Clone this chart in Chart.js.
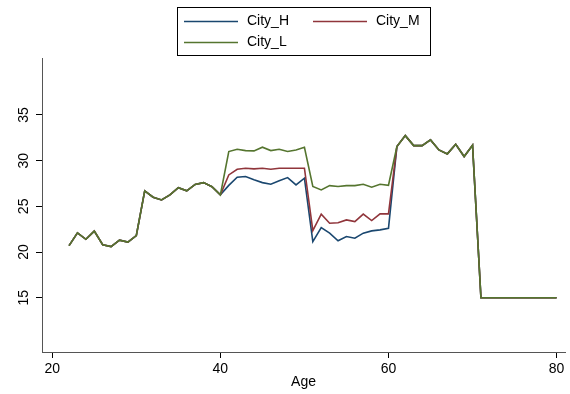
<!DOCTYPE html>
<html><head><meta charset="utf-8">
<script src="https://cdn.jsdelivr.net/npm/chart.js@4"></script>
<style>html,body{margin:0;padding:0;background:#fff}#wrap{width:570px;height:394px;position:relative}</style>
</head><body><div id="wrap"><canvas id="c" width="570" height="394"></canvas></div>
<script>
const ages = [22,23,24,25,26,27,28,29,30,31,32,33,34,35,36,37,38,39,40,
  41,42,43,44,45,46,47,48,49,50,51,52,53,54,55,56,57,58,59,60,
  61,62,63,64,65,66,67,68,69,70,71,72,73,74,75,76,77,78,79,80];
const cityH = [20.7,22.1,21.4,22.3,20.8,20.6,21.3,21.1,21.8,26.7,26.0,25.7,26.25,27.05,26.7,27.4,27.6,27.15,26.26,
  27.3,28.19,28.26,27.9,27.6,27.42,27.8,28.15,27.35,28.08,21.15,22.68,22.07,21.23,21.7,21.52,22.07,22.32,22.43,22.6,
  31.54,32.74,31.65,31.65,32.27,31.17,30.74,31.79,30.45,31.68,15,15,15,15,15,15,15,15,15,15];
const cityM = [20.7,22.1,21.4,22.3,20.8,20.6,21.3,21.1,21.8,26.7,26.0,25.7,26.25,27.05,26.7,27.4,27.6,27.15,26.26,
  28.44,29.06,29.17,29.1,29.17,29.06,29.17,29.17,29.17,29.17,22.36,24.15,23.16,23.2,23.52,23.34,24.15,23.45,24.18,24.18,
  31.54,32.74,31.65,31.65,32.27,31.17,30.74,31.79,30.45,31.68,15,15,15,15,15,15,15,15,15,15];
const cityL = [20.7,22.1,21.4,22.3,20.8,20.6,21.3,21.1,21.8,26.7,26.0,25.7,26.25,27.05,26.7,27.4,27.6,27.15,26.26,
  31.0,31.25,31.1,31.07,31.47,31.1,31.25,31.0,31.17,31.47,27.17,26.8,27.27,27.17,27.27,27.27,27.42,27.09,27.42,27.31,
  31.54,32.74,31.65,31.65,32.27,31.17,30.74,31.79,30.45,31.68,15,15,15,15,15,15,15,15,15,15];
const xTicks = [20,40,60,80];
const yTicks = [15,20,25,30,35];
const seriesNames = ['City_H','City_M','City_L'];
const seriesColors = ['#1a476f','#90353b','#55752f'];
const FONT = '"Liberation Sans", Arial, Helvetica, sans-serif';

const legendPlugin = {
  id: 'stataLegend',
  afterDraw(chart) {
    const ctx = chart.ctx;
    ctx.save();
    ctx.strokeStyle = '#000'; ctx.lineWidth = 1;
    ctx.strokeRect(177.5, 7.5, 253, 48);
    const items = [{x:184,y:21.5},{x:313,y:21.5},{x:184,y:42.5}];
    chart.data.datasets.forEach((ds, i) => {
      const it = items[i];
      ctx.strokeStyle = ds.borderColor; ctx.lineWidth = 1.6;
      ctx.beginPath(); ctx.moveTo(it.x, it.y); ctx.lineTo(it.x + 54, it.y); ctx.stroke();
      ctx.fillStyle = '#000'; ctx.font = '14px ' + FONT;
      ctx.textBaseline = 'middle'; ctx.textAlign = 'left';
      ctx.fillText(ds.label, it.x + 63, it.y);
    });
    ctx.restore();
  }
};

const series = [cityH, cityM, cityL];
const datasets = series.map((vals, i) => ({
  label: seriesNames[i],
  data: ages.map((a, j) => ({x: a, y: vals[j]})),
  borderColor: seriesColors[i],
  backgroundColor: seriesColors[i],
  borderWidth: 1.6,
  pointRadius: 0,
  tension: 0,
  fill: false,
  order: 2 - i
}));

const axisCommon = {
  grid: {display: true, drawOnChartArea: false, drawTicks: true, tickLength: 6, color: '#000'},
  border: {display: true, color: '#555', width: 1}
};

new Chart(document.getElementById('c'), {
  type: 'line',
  data: {datasets},
  options: {
    responsive: false,
    animation: false,
    devicePixelRatio: 1,
    layout: {padding: {top: 58, right: 5, bottom: 0, left: 0}},
    plugins: {legend: {display: false}, tooltip: {enabled: false}},
    scales: {
      x: {
        type: 'linear', min: 18.78, max: 81,
        afterBuildTicks: s => { s.ticks = xTicks.map(v => ({value: v})); },
        afterFit: s => { s.height = 42; },
        ...axisCommon,
        ticks: {font: {family: FONT, size: 14}, color: '#000', padding: 3, maxRotation: 0, autoSkip: false},
        title: {display: true, text: 'Age', color: '#000', font: {family: FONT, size: 14}, padding: {top: 0, bottom: 3}}
      },
      y: {
        type: 'linear', min: 9.07, max: 41.23,
        afterBuildTicks: s => { s.ticks = yTicks.map(v => ({value: v})); },
        afterFit: s => { s.width = 42; },
        ...axisCommon,
        ticks: {font: {family: FONT, size: 14}, color: '#000', padding: 4, minRotation: 90, maxRotation: 90, crossAlign: 'center', autoSkip: false}
      }
    }
  },
  plugins: [legendPlugin]
});
</script></body></html>
